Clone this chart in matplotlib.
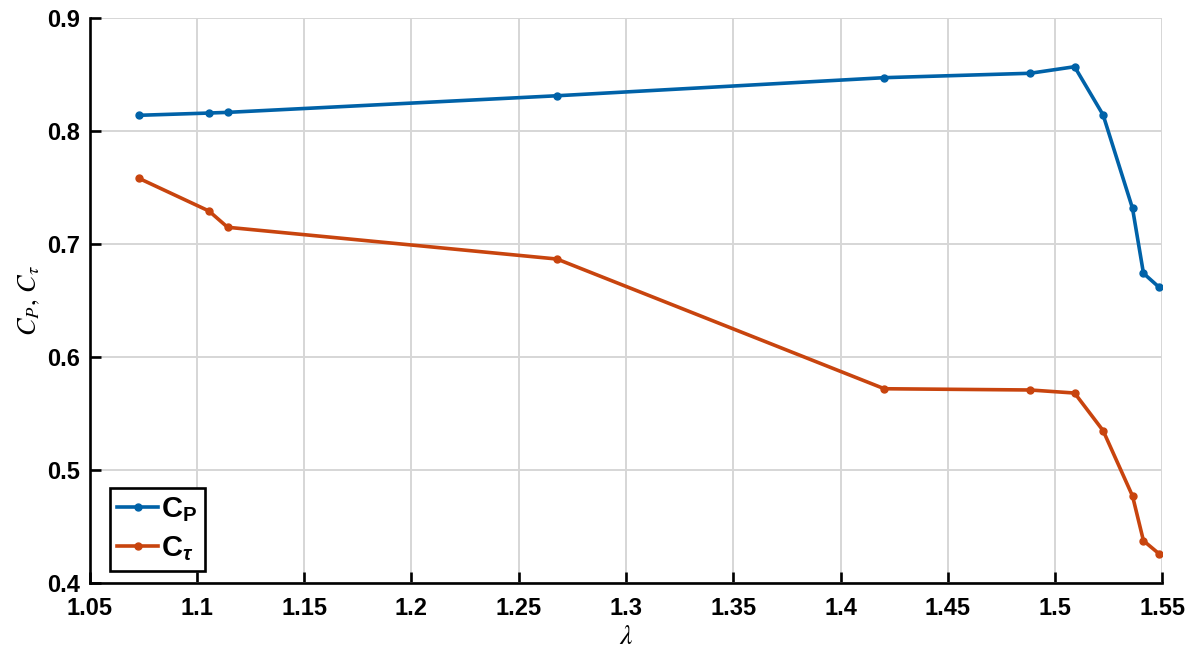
import matplotlib
matplotlib.use("Agg")
import matplotlib.pyplot as plt

# tip speed ratio and coefficients
lam = [1.073, 1.1056, 1.1143, 1.2678, 1.4204, 1.4884, 1.5091, 1.5224, 1.5361, 1.5412, 1.5485]
cp = [0.8139, 0.8159, 0.8165, 0.8312, 0.8472, 0.8511, 0.8569, 0.8142, 0.7316, 0.6741, 0.6617]
ctau = [0.7581, 0.7292, 0.7148, 0.6867, 0.5719, 0.5708, 0.5681, 0.5348, 0.4770, 0.4374, 0.4258]

xticks = [1.05, 1.1, 1.15, 1.2, 1.25, 1.3, 1.35, 1.4, 1.45, 1.5, 1.55]
xticklabels = ["1.05", "1.1", "1.15", "1.2", "1.25", "1.3", "1.35", "1.4", "1.45", "1.5", "1.55"]
yticks = [0.4, 0.5, 0.6, 0.7, 0.8, 0.9]
yticklabels = ["0.4", "0.5", "0.6", "0.7", "0.8", "0.9"]

plt.rcParams['font.family'] = ['Liberation Sans', 'DejaVu Sans']
plt.rcParams['mathtext.fontset'] = 'custom'
plt.rcParams['mathtext.rm'] = 'Liberation Sans:bold'
plt.rcParams['mathtext.bf'] = 'Liberation Sans:bold'
plt.rcParams['mathtext.it'] = 'Liberation Sans:italic:bold'

fig = plt.figure(figsize=(12.02, 6.6), dpi=100)
ax = fig.add_axes([0.0746, 0.1167, 0.8924, 0.856])

blue = '#0062A8'
orange = '#C8440E'
ax.plot(lam, cp, color=blue, lw=2.6, marker='o', ms=5, label=r'$\mathrm{C_P}$')
ax.plot(lam, ctau, color=orange, lw=2.6, marker='o', ms=5, label=r'$\mathrm{C}_{\tau}$')

ax.set_xlim(1.05, 1.55)
ax.set_ylim(0.4, 0.9)
ax.set_xticks(xticks)
ax.set_xticklabels(xticklabels)
ax.set_yticks(yticks)
ax.set_yticklabels(yticklabels)
for lbl in ax.get_xticklabels() + ax.get_yticklabels():
    lbl.set_fontweight('bold')
    lbl.set_fontsize(17)

ax.grid(True, color='#d6d6d6', lw=1.4)
ax.set_axisbelow(True)
for s in ['top', 'right']:
    ax.spines[s].set_visible(False)
for s in ['left', 'bottom']:
    ax.spines[s].set_linewidth(1.9)
ax.tick_params(direction='in', length=8, width=1.9)
ax.tick_params(axis='x', pad=10)
ax.tick_params(axis='y', pad=7)

ax.set_xlabel(r'$\lambda$', fontsize=20, math_fontfamily='stix', labelpad=3)
ax.set_ylabel(r'$C_P,\, C_\tau$', fontsize=19, math_fontfamily='stix', labelpad=4)

leg = ax.legend(loc='lower left', bbox_to_anchor=(0.019, 0.022), fontsize=21,
                fancybox=False, framealpha=1, edgecolor='black',
                handlelength=1.4, handletextpad=0.1, borderpad=0.25,
                borderaxespad=0, labelspacing=0.35)
leg.get_frame().set_linewidth(1.9)

plt.savefig("out.png", dpi=100)
